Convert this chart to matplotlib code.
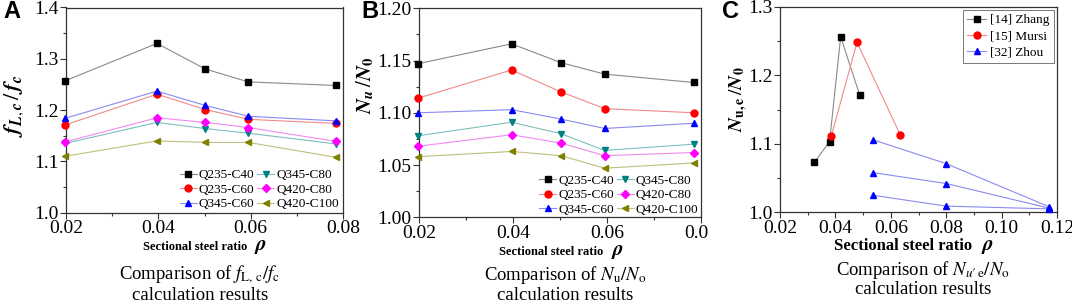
import numpy as np
import matplotlib
matplotlib.use('Agg')
import matplotlib.pyplot as plt
from matplotlib.transforms import Bbox, TransformedBbox

plt.rcParams['font.family'] = ['Liberation Serif', 'DejaVu Serif']
plt.rcParams['mathtext.fontset'] = 'stix'

# ---- data ----
rho = [0.0198, 0.0397, 0.0502, 0.0595, 0.0785]
series_names = ['Q235-C40', 'Q235-C60', 'Q345-C60', 'Q345-C80', 'Q420-C80', 'Q420-C100']

fl_fc = {
    'Q235-C40': [1.257, 1.330, 1.280, 1.255, 1.248],
    'Q235-C60': [1.171, 1.231, 1.201, 1.182, 1.174],
    'Q345-C60': [1.184, 1.237, 1.209, 1.188, 1.179],
    'Q345-C80': [1.135, 1.176, 1.164, 1.155, 1.134],
    'Q420-C80': [1.138, 1.185, 1.176, 1.166, 1.139],
    'Q420-C100': [1.110, 1.140, 1.137, 1.137, 1.108],
}

nu_n0 = {
    'Q235-C40': [1.147, 1.166, 1.148, 1.137, 1.129],
    'Q235-C60': [1.114, 1.141, 1.120, 1.104, 1.100],
    'Q345-C60': [1.100, 1.103, 1.094, 1.085, 1.090],
    'Q345-C80': [1.078, 1.091, 1.080, 1.064, 1.070],
    'Q420-C80': [1.068, 1.079, 1.071, 1.059, 1.062],
    'Q420-C100': [1.058, 1.063, 1.059, 1.047, 1.052],
}

zhang_x = [0.0324, 0.0379, 0.0419, 0.0488]
zhang_y = [1.073, 1.103, 1.256, 1.171]
mursi_x = [0.0385, 0.0478, 0.0634]
mursi_y = [1.111, 1.248, 1.113]
# three test groups, separated by NaN
zhou_x = [0.0534, 0.0800, 0.1172, np.nan, 0.0534, 0.0800, 0.1172, np.nan, 0.0534, 0.0800, 0.1172]
zhou_y = [1.106, 1.071, 1.008, np.nan, 1.058, 1.042, 1.006, np.nan, 1.025, 1.009, 1.005]

# ---- styles ----
marker_col = ['#000000', '#ff0000', '#0000ff', '#008080', '#ff00ff', '#808000']
line_col = ['#8a8a8a', '#f08a8a', '#8a8af0', '#7fbfbf', '#f08af0', '#bfbf7f']
markers = ['s', 'o', '^', 'v', 'D', '<']
msizes = [4.5, 5, 5, 5, 4, 5]
spine_col = '#333333'

fig = plt.figure(figsize=(10.72, 3.04), dpi=100)
W, H = 1072.0, 304.0


def make_ax(l, r, t, b):
    return fig.add_axes([l / W, 1 - b / H, (r - l) / W, (b - t) / H])


def style_ax(ax):
    for s in ax.spines.values():
        s.set_color(spine_col)
        s.set_linewidth(0.9)
    ax.tick_params(which='both', direction='out', color=spine_col, width=0.8,
                   labelsize=14, pad=1.5)
    ax.tick_params(which='major', length=4)
    ax.tick_params(which='minor', length=2.5)


def line_panel(ax, data, ylim, yticks, ylabfmt, anchor):
    handles = []
    for i, name in enumerate(series_names):
        h, = ax.plot(rho, data[name], color=line_col[i], lw=0.8, marker=markers[i],
                     ms=msizes[i], mfc=marker_col[i], mec=marker_col[i], label=name,
                     clip_on=False, zorder=3)
        handles.append(h)
    ax.set_xlim(0.02, 0.08)
    ax.set_ylim(*ylim)
    ax.set_xticks([0.02, 0.04, 0.06, 0.08])
    ax.set_xticklabels(['0.02', '0.04', '0.06', '0.08'])
    ax.set_xticks([0.03, 0.05, 0.07], minor=True)
    ax.set_yticks(yticks)
    ax.set_yticklabels([ylabfmt.format(v) for v in yticks])
    ax.set_yticks([(a + b) / 2 for a, b in zip(yticks[:-1], yticks[1:])], minor=True)
    style_ax(ax)
    ax.legend(handles, series_names, ncol=2, loc='lower right', bbox_to_anchor=anchor,
              frameon=False, fontsize=9.5, handlelength=1.3, handletextpad=0.15,
              columnspacing=0.2, labelspacing=0.18, borderaxespad=0.0, borderpad=0.1)


# ---- panel A ----
axA = make_ax(66, 343, 7.5, 212.7)
line_panel(axA, fl_fc, (1.0, 1.4), [1.0, 1.1, 1.2, 1.3, 1.4], '{:.1f}', (0.99, 0.005))
axA.set_ylabel(r'$\mathbfit{f}_{\mathbfit{L},\mathbfit{c}}\,/\,\mathbfit{f}_{\mathbfit{c}}$',
               fontsize=16)
axA.yaxis.set_label_coords(-0.145, 0.52)

# ---- panel B ----
axB = make_ax(419, 701, 8.3, 217.3)
line_panel(axB, nu_n0, (1.0, 1.2), [1.00, 1.05, 1.10, 1.15, 1.20], '{:.2f}', (0.995, 0.0))
axB.set_ylabel(r'$\mathbfit{N}_{\mathbfit{u}}\,/\mathbfit{N}_{\mathbf{0}}$', fontsize=15)
axB.yaxis.set_label_coords(-0.15, 0.63)
# the source figure is cropped here, so the last tick label reads "0.0"
clip = TransformedBbox(Bbox([[0, 0], [709 / W, 1]]), fig.transFigure)
for lab in axB.get_xticklabels():
    lab.set_clip_box(clip)
    lab.set_clip_on(True)

# ---- panel C ----
axC = make_ax(780, 1057, 6.7, 212.3)
hz, = axC.plot(zhang_x, zhang_y, color='#8a8a8a', lw=0.8, marker='s', ms=4.5,
               mfc='#000000', mec='#000000', label='[14] Zhang', zorder=3)
hm, = axC.plot(mursi_x, mursi_y, color='#f08a8a', lw=0.8, marker='o', ms=5,
               mfc='#ff0000', mec='#ff0000', label='[15] Mursi', zorder=3)
hzh, = axC.plot(zhou_x, zhou_y, color='#8a8af0', lw=0.8, marker='^', ms=5,
                mfc='#0000ff', mec='#0000ff', label='[32] Zhou', zorder=3, clip_on=False)
axC.set_xlim(0.02, 0.12)
axC.set_ylim(1.0, 1.3)
axC.set_xticks([0.02, 0.04, 0.06, 0.08, 0.10, 0.12])
axC.set_xticklabels(['0.02', '0.04', '0.06', '0.08', '0.10', '0.12'])
axC.set_xticks([0.03, 0.05, 0.07, 0.09, 0.11], minor=True)
axC.set_yticks([1.0, 1.1, 1.2, 1.3])
axC.set_yticklabels(['1.0', '1.1', '1.2', '1.3'])
axC.set_yticks([1.05, 1.15, 1.25], minor=True)
style_ax(axC)
leg = axC.legend(loc='upper right', fontsize=9.5, frameon=True, fancybox=False,
                 handlelength=1.5, handletextpad=0.3, labelspacing=0.3,
                 borderpad=0.3, borderaxespad=0.25)
leg.get_frame().set_edgecolor('#555555')
leg.get_frame().set_linewidth(0.7)
axC.set_ylabel(r'$\mathbfit{N}_{\mathbf{u,e}}\,/\mathbfit{N}_{\mathbf{0}}$', fontsize=14)
axC.yaxis.set_label_coords(-0.11, 0.55)

# ---- x labels ----
for ax, fs, rfs, xr, xl in [(axA, 9, 15, 0.655, 0.68), (axB, 9, 15, 0.655, 0.68),
                            (axC, 12, 15, 0.695, 0.725)]:
    ax.text(xr, -0.165, 'Sectional steel ratio', transform=ax.transAxes, ha='right',
            va='center', fontsize=fs, fontweight='bold')
    ax.text(xl, -0.165, r'$\mathbfit{\rho}$', transform=ax.transAxes, ha='left',
            va='center', fontsize=rfs)

# ---- captions ----
caps = [(200, 275, 295, r'Comparison of $f_{\mathrm{L,\,c}}/f_{\mathrm{c}}$'),
        (565, 275, 295, r'Comparison of $N_{\mathrm{u}}/N_{\mathrm{o}}$'),
        (923, 270, 289, r"Comparison of $N_{u\prime\,\mathrm{e}}/N_{\mathrm{o}}$")]
for cx, y1, y2, txt in caps:
    fig.text(cx / W, 1 - y1 / H, txt, ha='center', va='center', fontsize=13.5)
    fig.text(cx / W, 1 - y2 / H, 'calculation results', ha='center', va='center',
             fontsize=13.5)

# ---- panel letters ----
for x, t in [(3, 'A'), (361, 'B'), (722, 'C')]:
    fig.text(x / W, 1 - 12 / H, t, ha='left', va='center', fontsize=17,
             fontweight='bold', family='Liberation Sans')

fig.savefig('out.png', dpi=100)
